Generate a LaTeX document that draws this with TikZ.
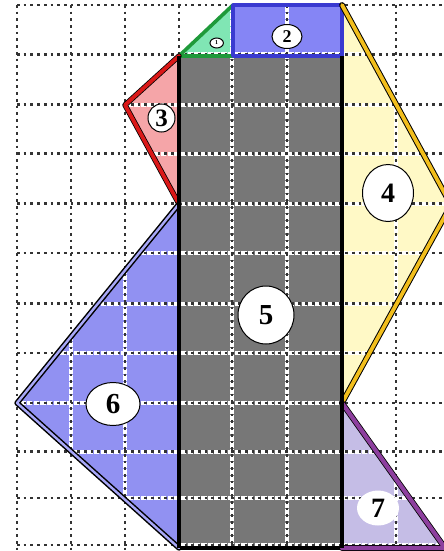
\documentclass[tikz,border=0pt]{standalone}
\usepackage{fontspec}
\setmainfont{Liberation Serif}
\usetikzlibrary{shapes.geometric}
\definecolor{cgreenf}{HTML}{80E6B4}
\definecolor{cgreend}{HTML}{1F9A3A}
\definecolor{cbluef}{HTML}{8585F5}
\definecolor{cblued}{HTML}{3A3AD0}
\definecolor{cpinkf}{HTML}{F5A5A8}
\definecolor{credd}{HTML}{DA1818}
\definecolor{cyelf}{HTML}{FFF9C6}
\definecolor{cyeld}{HTML}{F2BE1C}
\definecolor{cgreyf}{HTML}{777777}
\definecolor{cblue6f}{HTML}{9191F2}
\definecolor{cblue6d}{HTML}{A8A8F8}
\definecolor{cpurf}{HTML}{C5BDE6}
\definecolor{cpurd}{HTML}{8D3F9E}
\begin{document}
\begin{tikzpicture}[x=1pt,y=-1pt,
  gridblack/.style={line width=2.7pt, dash pattern=on 2.7pt off 4pt, black!80},
  gridwhite/.style={line width=4pt, white, dash pattern=on 5.5pt off 1.2pt},
  lab/.style={draw=black, line width=1pt, fill=white, ellipse, inner sep=0pt},
  edge/.style={line join=round, line cap=round},
]
\useasboundingbox (0,0) rectangle (444,551);
\begin{scope}
\clip (0,0) rectangle (444,551);
% coordinates
\coordinate (A) at (179,56);
\coordinate (B) at (233,5);
\coordinate (C) at (233,56);
\coordinate (D) at (342,5);
\coordinate (E) at (342,56);
\coordinate (F) at (125,105);
\coordinate (G) at (179,204);
\coordinate (H) at (451,205);
\coordinate (I) at (342,403);
\coordinate (J) at (17,403);
\coordinate (K) at (179,548);
\coordinate (L) at (342,548);
\coordinate (M) at (445,548);
% fills
\fill[cgreenf] (A) -- (B) -- (C) -- cycle;
\fill[cbluef] (B) rectangle (E);
\fill[cpinkf] (A) -- (F) -- (G) -- cycle;
\fill[cyelf] (D) -- (H) -- (I) -- cycle;
\fill[cgreyf] (A) rectangle (L);
\fill[cblue6f] (G) -- (J) -- (K) -- cycle;
\fill[cpurf] (I) -- (M) -- (L) -- cycle;
% white grid inside shapes
\begin{scope}
\clip (A) -- (B) -- (C) -- cycle
      (B) -- (D) -- (E) -- (C) -- cycle
      (A) -- (F) -- (G) -- cycle
      (D) -- (H) -- (I) -- cycle
      (A) -- (E) -- (L) -- (K) -- cycle
      (G) -- (J) -- (K) -- cycle
      (I) -- (M) -- (L) -- cycle;
\foreach \x in {17,71,125,179,232,287,342,396}
  \draw[gridwhite] (\x,0) -- (\x,551);
\foreach \y in {5,54.5,104.5,153.5,203.5,253,303.5,353,403,451.5,498,545}
  \draw[gridwhite] (0,\y) -- (444,\y);
\end{scope}
% black dotted grid
\foreach \x in {17,71,125,179,232,287,342,396}
  \draw[gridblack] (\x,5) -- (\x,551);
\foreach \y in {5,54.5,104.5,153.5,203.5,253,303.5,353,403,451.5,498,545}
  \draw[gridblack] (17,\y) -- (444,\y);
% outlines
\draw[edge, black, line width=4.2pt] (A) rectangle (L);
\draw[edge, cgreend, line width=3.6pt] (A) -- (B) -- (C) -- cycle;
\draw[edge, cblued, line width=3.6pt] (B) rectangle (E);
\draw[edge, black, line width=5.4pt] (A) -- (F) -- (G);
\draw[edge, credd, line width=3.8pt] (A) -- (F) -- (G) -- cycle;
\draw[edge, black, line width=5.8pt] (D) -- (H) -- (I);
\draw[edge, cyeld, line width=3.8pt] (D) -- (H) -- (I);
\draw[edge, black, line width=5.4pt] (G) -- (J) -- (K);
\draw[edge, cblue6d, line width=2.4pt] (G) -- (J) -- (K);
\draw[edge, black, line width=5.8pt] (I) -- (M) -- (L);
\draw[edge, cpurd, line width=4.2pt] (I) -- (M) -- (L);
\draw[black, line width=4.2pt] (A) -- (K);
\draw[black, line width=4.2pt] (E) -- (L);
\end{scope}
% labels
\node[lab, minimum width=13.4pt, minimum height=10pt, font=\bfseries\fontsize{6}{6}\selectfont] (l1) at (216.7,43) {1};
\node[lab, minimum width=30pt, minimum height=24pt, font=\bfseries\fontsize{18}{18}\selectfont] (l2) at (287,36.5) {2};
\node[lab, minimum width=27pt, minimum height=28pt, font=\bfseries\fontsize{25}{25}\selectfont] (l3) at (161.5,118) {3};
\node[lab, minimum width=51pt, minimum height=57pt, font=\bfseries\fontsize{28}{28}\selectfont] (l4) at (388,193) {4};
\node[lab, minimum width=56pt, minimum height=58pt, font=\bfseries\fontsize{29}{29}\selectfont] (l5) at (266,315) {5};
\node[lab, minimum width=54pt, minimum height=43pt, font=\bfseries\fontsize{29}{29}\selectfont] (l6) at (113,404) {6};
\node[lab, draw=none, minimum width=42pt, minimum height=35pt, font=\bfseries\fontsize{28}{28}\selectfont] (l7) at (378,508) {7};
\end{tikzpicture}
\end{document}
